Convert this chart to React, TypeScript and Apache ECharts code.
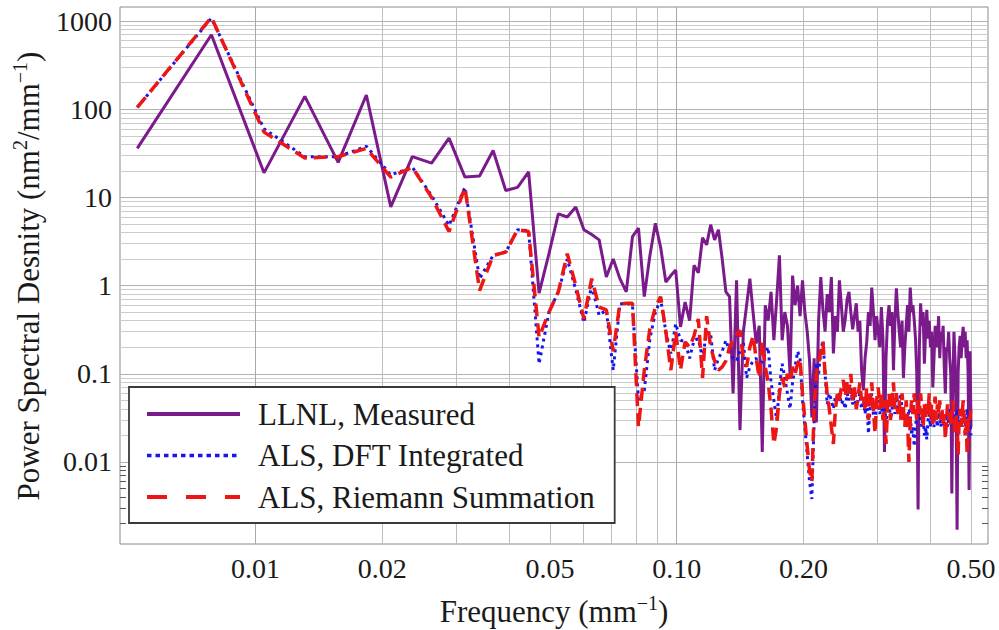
import { useEffect, useRef } from 'react';
import * as echarts from 'echarts';

// DFT frequency grid: f = n * FREQ_STEP (mm^-1), n starting at FIRST_INDEX
const FREQ_STEP = 0.5 / 191;
const FIRST_INDEX = 2;

const llnlMeasured = [
  36, 700, 19, 140, 25, 145, 7.8, 29, 24.5, 47,
  17, 17.5, 34, 12, 13, 19.5, 0.82, 2.3, 6.5, 6,
  7.8, 4.3, 3.8, 3.3, 1.25, 2.0, 1.2, 0.85, 3.6, 4.5,
  0.75, 2.2, 5.1, 2.7, 1.1, 1.3, 1.5, 0.34, 0.65, 0.4,
  1.7, 1.4, 3.5, 2.9, 4.9, 3.3, 4.3, 2.0, 0.85, 0.75,
  0.06, 1.15, 0.023, 0.3, 0.6, 1.2, 0.5, 0.22, 0.35, 0.013,
  0.6, 0.4, 0.85, 0.24, 0.7, 2.2, 0.24, 0.5, 0.35, 0.1,
  1.3, 0.6, 1.0, 0.45, 1.15, 0.5, 0.3, 0.14, 0.032, 0.15,
  0.028, 0.4, 1.25, 0.53, 0.3, 0.8, 0.5, 1.25, 0.17, 0.45,
  0.3, 1.15, 0.6, 0.3, 0.41, 0.7, 0.85, 0.5, 0.32, 0.45,
  0.63, 0.3, 0.4, 0.11, 0.065, 0.15, 0.23, 0.5, 0.35, 0.95,
  0.5, 0.24, 0.45, 0.3, 0.2, 0.57, 0.25, 0.013, 0.15, 0.4,
  0.6, 0.35, 0.5, 0.11, 0.4, 0.93, 0.5, 0.3, 0.2, 0.4,
  0.09, 0.2, 0.35, 0.6, 0.3, 0.95, 0.5, 0.6, 0.41, 0.25,
  0.1, 0.0029, 0.2, 0.63, 0.35, 0.5, 0.13, 0.3, 0.53, 0.25,
  0.4, 0.2, 0.3, 0.07, 0.15, 0.35, 0.2, 0.24, 0.45, 0.15,
  0.3, 0.23, 0.35, 0.12, 0.06, 0.2, 0.18, 0.3, 0.15, 0.1,
  0.0044, 0.08, 0.3, 0.15, 0.05, 0.0017, 0.1, 0.2, 0.27, 0.15,
  0.25, 0.34, 0.2, 0.3, 0.15, 0.24, 0.1, 0.0048, 0.18, 0.025,
];

const alsDftIntegrated = [
  105, 1080, 60, 29, 29, 38, 18, 22, 10.5, 4.8,
  13, 1.2, 2.2, 2.4, 4.3, 4.2, 0.13, 0.5, 0.85, 2.0,
  0.9, 0.38, 1.0, 0.46, 0.53, 0.11, 0.62, 0.63, 0.6, 0.05,
  0.065, 0.25, 0.5, 0.7, 0.3, 0.17, 0.37, 0.24, 0.23, 0.15,
  0.24, 0.25, 0.15, 0.3, 0.28, 0.11, 0.15, 0.18, 0.24, 0.18,
  0.15, 0.14, 0.18, 0.23, 0.09, 0.12, 0.14, 0.15, 0.12, 0.14,
  0.17, 0.2, 0.08, 0.05, 0.03, 0.07, 0.13, 0.09, 0.06, 0.04,
  0.08, 0.12, 0.18, 0.15, 0.05, 0.025, 0.012, 0.006, 0.0038, 0.03,
  0.13, 0.1, 0.18, 0.24, 0.1, 0.045, 0.06, 0.05, 0.04, 0.055,
  0.05, 0.06, 0.045, 0.05, 0.04, 0.06, 0.05, 0.07, 0.045, 0.06,
  0.04, 0.05, 0.06, 0.04, 0.055, 0.035, 0.05, 0.021, 0.04, 0.06,
  0.035, 0.03, 0.045, 0.05, 0.035, 0.045, 0.03, 0.04, 0.03, 0.035,
  0.05, 0.03, 0.04, 0.055, 0.035, 0.06, 0.04, 0.045, 0.06, 0.04,
  0.03, 0.035, 0.025, 0.03, 0.04, 0.035, 0.02, 0.025, 0.015, 0.025,
  0.035, 0.03, 0.04, 0.03, 0.025, 0.035, 0.02, 0.025, 0.018, 0.03,
  0.035, 0.025, 0.04, 0.03, 0.025, 0.035, 0.03, 0.025, 0.04, 0.03,
  0.025, 0.035, 0.03, 0.025, 0.03, 0.035, 0.025, 0.03, 0.04, 0.03,
  0.025, 0.03, 0.035, 0.025, 0.03, 0.04, 0.03, 0.025, 0.03, 0.035,
  0.025, 0.03, 0.035, 0.025, 0.03, 0.04, 0.03, 0.025, 0.03, 0.02,
];

const alsRiemannSummation = [
  105, 1100, 55, 28, 29, 36, 17, 22, 10, 4.1,
  13, 0.88, 2.2, 2.4, 4.3, 4.1, 0.26, 0.5, 0.85, 2.3,
  1.0, 0.42, 1.2, 0.57, 0.53, 0.18, 0.62, 0.63, 0.63, 0.025,
  0.11, 0.33, 0.57, 0.75, 0.3, 0.11, 0.3, 0.11, 0.23, 0.2,
  0.27, 0.42, 0.09, 0.45, 0.2, 0.14, 0.11, 0.12, 0.14, 0.2,
  0.24, 0.28, 0.31, 0.15, 0.12, 0.2, 0.27, 0.15, 0.09, 0.23,
  0.12, 0.08, 0.04, 0.016, 0.025, 0.06, 0.09, 0.07, 0.1, 0.08,
  0.12, 0.1, 0.13, 0.15, 0.06, 0.03, 0.015, 0.008, 0.006, 0.04,
  0.1, 0.13, 0.18, 0.23, 0.1, 0.06, 0.04, 0.025, 0.016, 0.04,
  0.06, 0.05, 0.07, 0.085, 0.055, 0.08, 0.06, 0.1, 0.05, 0.07,
  0.04, 0.055, 0.08, 0.05, 0.06, 0.04, 0.07, 0.03, 0.05, 0.08,
  0.04, 0.021, 0.05, 0.07, 0.04, 0.06, 0.03, 0.05, 0.016, 0.04,
  0.06, 0.03, 0.05, 0.08, 0.04, 0.06, 0.035, 0.05, 0.03, 0.06,
  0.04, 0.025, 0.05, 0.03, 0.01, 0.03, 0.05, 0.035, 0.06, 0.04,
  0.03, 0.05, 0.035, 0.06, 0.04, 0.025, 0.045, 0.03, 0.05, 0.035,
  0.06, 0.03, 0.045, 0.025, 0.04, 0.055, 0.03, 0.045, 0.035, 0.05,
  0.03, 0.04, 0.025, 0.035, 0.018, 0.03, 0.045, 0.03, 0.04, 0.025,
  0.035, 0.05, 0.03, 0.02, 0.035, 0.025, 0.012, 0.03, 0.04, 0.025,
  0.035, 0.05, 0.03, 0.02, 0.03, 0.012, 0.025, 0.035, 0.03, 0.045,
];

const seriesNames = ['LLNL, Measured', 'ALS, DFT Integrated', 'ALS, Riemann Summation'];

const xTickValues = [0.01, 0.02, 0.05, 0.1, 0.2, 0.5];
const xTickLabels = ['0.01', '0.02', '0.05', '0.10', '0.20', '0.50'];
const yTickValues = [0.01, 0.1, 1, 10, 100, 1000];
const yTickLabels = ['0.01', '0.1', '1', '10', '100', '1000'];

const xGridValues = [0.01, 0.02, 0.03, 0.04, 0.05, 0.06, 0.07, 0.08, 0.09, 0.1, 0.2, 0.3, 0.4, 0.5];
const yDecades = [0.001, 0.01, 0.1, 1, 10, 100, 1000];
const yMultipliers = [1, 2, 3, 4, 5, 6, 7, 8, 9];

const X_MIN = 0.004764;
const X_MAX = 0.5487;
const Y_MIN = 0.001175;
const Y_MAX = 1443;

const FONT = 'Liberation Serif';
const TEXT = '#1a1a1a';

function lookup(values: number[], labels: string[]) {
  return (v: number) => {
    const i = values.findIndex((t) => Math.abs(t - v) / t < 1e-6);
    return i >= 0 ? labels[i] : '';
  };
}

export default function App() {
  const ref = useRef<HTMLDivElement>(null);

  useEffect(() => {
    if (!ref.current) return;
    const chart = echarts.init(ref.current, undefined, { renderer: 'svg' });

    const freqs = llnlMeasured.map((_, i) => (i + FIRST_INDEX) * FREQ_STEP);
    const yGridValues: number[] = [];
    yDecades.forEach((d) => yMultipliers.forEach((m) => {
      const v = +(d * m).toPrecision(6);
      if (v > Y_MIN && v < Y_MAX) yGridValues.push(v);
    }));
    const isMajor = (v: number) => Math.abs(Math.log10(v) - Math.round(Math.log10(v))) < 1e-6;

    const xAxisBase = (position: 'bottom' | 'top', showLabel: boolean) => ({
      type: 'log',
      logBase: 10,
      min: X_MIN,
      max: X_MAX,
      position,
      axisLine: { show: false },
      axisTick: {
        show: true, inside: true, length: 6, customValues: xGridValues,
        lineStyle: { color: '#555', width: 1 },
      },
      axisLabel: {
        show: showLabel, customValues: xTickValues, formatter: lookup(xTickValues, xTickLabels),
        fontFamily: FONT, fontSize: 28, color: TEXT, margin: 10,
      },
      splitLine: { show: false },
      minorTick: { show: false },
      minorSplitLine: { show: false },
    });
    const yAxisBase = (position: 'left' | 'right', showLabel: boolean) => ({
      type: 'log',
      logBase: 10,
      min: Y_MIN,
      max: Y_MAX,
      position,
      axisLine: { show: false },
      axisTick: {
        show: true, inside: true, length: 6, customValues: yGridValues,
        lineStyle: { color: '#555', width: 1 },
      },
      axisLabel: {
        show: showLabel, customValues: yTickValues, formatter: lookup(yTickValues, yTickLabels),
        fontFamily: FONT, fontSize: 28, color: TEXT, margin: 8,
      },
      splitLine: { show: false },
      minorTick: { show: false },
      minorSplitLine: { show: false },
    });

    const lineCommon = {
      type: 'line',
      symbol: 'none',
      showSymbol: false,
      silent: true,
      z: 3,
    };

    chart.setOption({
      animation: false,
      backgroundColor: '#ffffff',
      grid: {
        left: 120, top: 7, right: 11, bottom: 86,
        show: true, borderColor: '#8a8a8a', borderWidth: 1, backgroundColor: '#ffffff',
        outerBoundsMode: 'none',
      },
      xAxis: [xAxisBase('bottom', true), xAxisBase('top', false)],
      yAxis: [yAxisBase('left', true), yAxisBase('right', false)],
      legend: {
        data: [
          { name: seriesNames[0], lineStyle: { width: 4 } },
          { name: seriesNames[1], lineStyle: { type: [4.5, 4], width: 3.5 } },
          { name: seriesNames[2], lineStyle: { type: [20, 19], width: 4 } },
        ],
        orient: 'vertical',
        left: 129,
        top: 387,
        padding: [11.5, 20, 10.5, 16],
        itemGap: 10.5,
        itemWidth: 93,
        itemHeight: 14,
        selectedMode: false,
        itemStyle: { opacity: 0 },
        backgroundColor: '#ffffff',
        borderColor: '#3a3a3a',
        borderWidth: 1.8,
        borderRadius: 0,
        textStyle: { fontFamily: FONT, fontSize: 31, color: TEXT, padding: [0, 0, 0, 13] },
      },
      graphic: [
        {
          type: 'text', x: 554, y: 611, silent: true,
          style: {
            text: '{a|Frequency (mm}{s|−1}{a|)}',
            align: 'center', verticalAlign: 'middle',
            rich: {
              a: { fontFamily: FONT, fontSize: 31, fill: TEXT, lineHeight: 36 },
              s: { fontFamily: FONT, fontSize: 20, fill: TEXT, lineHeight: 14, verticalAlign: 'top' },
            },
          },
        },
        {
          type: 'text', x: 28, y: 276, rotation: Math.PI / 2, silent: true,
          style: {
            text: '{a|Power Spectral Desnity (nm}{s|2}{a|/mm}{s|−1}{a|)}',
            align: 'center', verticalAlign: 'middle',
            rich: {
              a: { fontFamily: FONT, fontSize: 31, fill: TEXT, lineHeight: 36 },
              s: { fontFamily: FONT, fontSize: 20, fill: TEXT, lineHeight: 14, verticalAlign: 'top' },
            },
          },
        },
      ],
      series: [
        {
          name: '__gridlines',
          type: 'line',
          data: [],
          silent: true,
          markLine: {
            silent: true,
            z: 1,
            animation: false,
            symbol: ['none', 'none'],
            label: { show: false },
            emphasis: { disabled: true },
            lineStyle: { color: '#c8c8c8', width: 1, type: 'solid' },
            data: [
              ...yGridValues.map((v) => ({
                yAxis: v,
                lineStyle: { color: isMajor(v) ? '#b0b0b0' : '#cccccc', width: 1, type: 'solid' },
              })),
              ...xGridValues.map((v) => ({
                xAxis: v,
                lineStyle: { color: isMajor(v) ? '#a8a8a8' : '#bdbdbd', width: 1, type: 'solid' },
              })),
            ],
          },
        },
        {
          ...lineCommon,
          name: seriesNames[0],
          data: freqs.map((f, i) => [f, llnlMeasured[i]]),
          lineStyle: { color: '#7b1a8b', width: 3 },
          itemStyle: { color: '#7b1a8b' },
        },
        {
          ...lineCommon,
          name: seriesNames[1],
          data: freqs.map((f, i) => [f, alsDftIntegrated[i]]),
          lineStyle: { color: '#1515ee', width: 3, type: [3, 4] },
          itemStyle: { color: '#1515ee' },
        },
        {
          ...lineCommon,
          name: seriesNames[2],
          data: freqs.map((f, i) => [f, alsRiemannSummation[i]]),
          lineStyle: { color: '#ee1515', width: 3.5, type: [13, 7] },
          itemStyle: { color: '#ee1515' },
        },
      ],
    });

    return () => chart.dispose();
  }, []);

  return (
    <div
      ref={ref}
      style={{ position: 'fixed', left: 0, top: 0, width: 999, height: 630, background: '#fff' }}
    />
  );
}
